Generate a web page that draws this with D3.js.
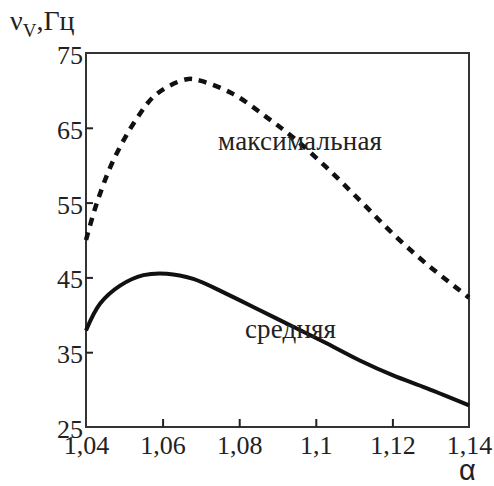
<!DOCTYPE html>
<html>
<head>
<meta charset="utf-8">
<script src="https://cdn.jsdelivr.net/npm/d3@7"></script>
<style>
  body { margin: 0; background: #fff; }
</style>
</head>
<body>
<div id="chart"></div>
<script>
// alpha values and the two frequency curves
const alphaMax = [1.04, 1.0428, 1.0471, 1.0532, 1.0584, 1.0663, 1.0698, 1.0785, 1.0872, 1.0941, 1.1028, 1.1115, 1.1202, 1.1289, 1.14];
const nuMax    = [50.0, 54.9, 60.6, 66.2, 69.5, 71.5, 71.3, 69.5, 66.4, 63.7, 59.7, 55.3, 50.8, 46.8, 42.3];

const alphaMean = [1.04, 1.0437, 1.0489, 1.055, 1.0611, 1.068, 1.0767, 1.0854, 1.0941, 1.1028, 1.1115, 1.1202, 1.1289, 1.14];
const nuMean    = [37.9, 41.5, 43.9, 45.3, 45.5, 44.8, 42.8, 40.6, 38.4, 36.2, 33.9, 31.9, 30.2, 27.9];

const xTicks = [1.04, 1.06, 1.08, 1.1, 1.12, 1.14];
const yTicks = [25, 35, 45, 55, 65, 75];

const width = 494, height = 486;
const margin = { top: 53, right: 25, bottom: 59, left: 86 };
const serif = "'Liberation Serif', 'Times New Roman', serif";
const sans = "'Liberation Sans', Arial, sans-serif";

const svg = d3.select("#chart")
    .append("svg")
    .attr("width", width)
    .attr("height", height);

const x = d3.scaleLinear()
    .domain([1.04, 1.14])
    .range([margin.left, width - margin.right]);

const y = d3.scaleLinear()
    .domain([25, 75])
    .range([height - margin.bottom, margin.top]);

const fmt = d => String(+d.toFixed(2)).replace(".", ",");

// frame
svg.append("rect")
    .attr("x", x(1.04))
    .attr("y", y(75))
    .attr("width", x(1.14) - x(1.04))
    .attr("height", y(25) - y(75))
    .attr("fill", "none")
    .attr("stroke", "#333")
    .attr("stroke-width", 2);

// x axis, ticks pointing inward
const xAxis = svg.append("g")
    .attr("transform", `translate(0,${y(25)})`)
    .call(d3.axisBottom(x).tickValues(xTicks).tickSize(-8).tickPadding(9).tickFormat(fmt));
xAxis.attr("font-family", null).attr("font-size", null);
xAxis.select(".domain").remove();
xAxis.selectAll(".tick line").attr("stroke", "#222").attr("stroke-width", 2)
    .filter(d => d === 1.04 || d === 1.14).remove();
xAxis.selectAll(".tick text")
    .style("font-family", serif)
    .style("font-size", "26px")
    .attr("fill", "#222");

// y axis, ticks pointing inward
const yAxis = svg.append("g")
    .attr("transform", `translate(${x(1.04)},0)`)
    .call(d3.axisLeft(y).tickValues(yTicks).tickSize(-7).tickPadding(3));
yAxis.attr("font-family", null).attr("font-size", null);
yAxis.select(".domain").remove();
yAxis.selectAll(".tick line").attr("stroke", "#222").attr("stroke-width", 2)
    .filter(d => d === 25 || d === 75).remove();
yAxis.selectAll(".tick text")
    .style("font-family", serif)
    .style("font-size", "26px")
    .attr("fill", "#222")
    .attr("dy", "0.4em");

const line = d3.line()
    .x(d => x(d[0]))
    .y(d => y(d[1]))
    .curve(d3.curveCatmullRom.alpha(0.5));

svg.append("path")
    .datum(d3.zip(alphaMax, nuMax))
    .attr("d", line)
    .attr("fill", "none")
    .attr("stroke", "#111")
    .attr("stroke-width", 4.5)
    .attr("stroke-dasharray", "8,7");

svg.append("path")
    .datum(d3.zip(alphaMean, nuMean))
    .attr("d", line)
    .attr("fill", "none")
    .attr("stroke", "#111")
    .attr("stroke-width", 4);

// curve labels
svg.append("text")
    .attr("x", 218)
    .attr("y", 150)
    .style("font-family", serif)
    .style("font-size", "27px")
    .attr("fill", "#222")
    .attr("textLength", 164)
    .text("максимальная");

svg.append("text")
    .attr("x", 245)
    .attr("y", 338)
    .style("font-family", serif)
    .style("font-size", "27px")
    .attr("fill", "#222")
    .attr("textLength", 91)
    .text("средняя");

// axis titles
const yTitle = svg.append("text")
    .attr("x", 10)
    .attr("y", 30)
    .style("font-family", serif)
    .style("font-size", "28px")
    .attr("fill", "#222");
yTitle.append("tspan").text("ν");
yTitle.append("tspan").style("font-size", "19px").attr("dy", 7).text("V");
yTitle.append("tspan").attr("dy", -7).text(",Гц");

svg.append("text")
    .attr("x", 459)
    .attr("y", 480)
    .style("font-family", sans)
    .style("font-size", "29px")
    .attr("fill", "#222")
    .text("α");
</script>
</body>
</html>
